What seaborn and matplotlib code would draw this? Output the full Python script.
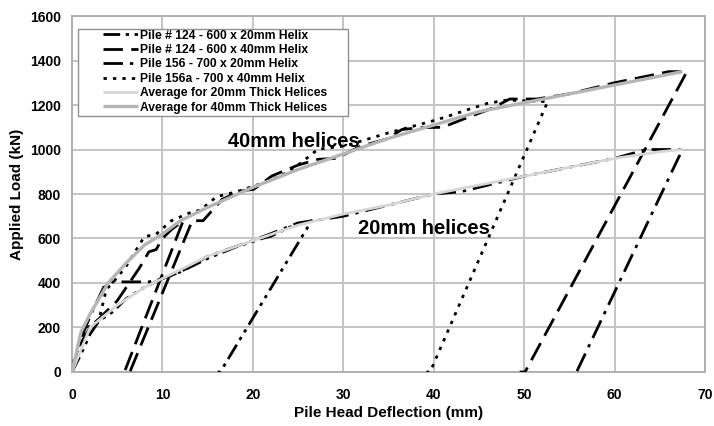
import matplotlib
matplotlib.use("Agg")
import matplotlib.pyplot as plt
from matplotlib.patches import Rectangle
import seaborn as sns
import pandas as pd

# ---------------- data ----------------
p124_20_x = [0, 1, 2, 3, 4.5, 6, 8, 10, 12, 15, 18, 21, 22, 24, 26.5, 16.4, 16.1]
p124_20_y = [0, 80, 170, 230, 270, 330, 380, 420, 450, 510, 560, 600, 610, 650, 680, 0, 0]

p124_40_x = [0, 1, 2, 3, 5, 7.5, 8.5, 9.3, 10, 11, 12.3, 5.8, 6.4, 13.3, 14.5, 16.6, 18.6, 20.1,
             22.1, 25, 27.2, 29.2, 32, 34.7, 36.5, 38.5, 41, 43, 46.5, 48.4, 51.4, 55, 60,
             66, 68, 50.1, 49.5]
p124_40_y = [0, 130, 200, 240, 320, 470, 540, 550, 600, 640, 680, 0, 0, 680, 680, 776, 813, 821,
             881, 930, 956, 960, 1016, 1046, 1090, 1098, 1100, 1132, 1186, 1227, 1227, 1250, 1300,
             1350, 1350, 0, 0]

p156_20_x = [0, 1, 2, 3.5, 4.5, 8.5, 10, 12, 15, 20, 25, 30, 35, 40, 43, 47, 50, 55, 60, 63.5,
             67.5, 55.8]
p156_20_y = [0, 150, 250, 380, 405, 405, 420, 450, 520, 590, 670, 700, 750, 800, 810, 850, 880,
             920, 960, 1000, 1000, 0]

p156a_40_x = [0, 0.25, 1.5, 3, 3.8, 4.5, 6, 8, 9.3, 11, 13, 14.2, 16, 18.2, 21.1, 23.3, 25, 27.2,
              30.2, 35, 39.6, 41.4, 43.6, 45.9, 48.1, 52.6, 39.6, 39.2]
p156a_40_y = [0, 57, 192, 237, 372, 400, 476, 608, 619, 680, 715, 728, 788, 810, 849, 885, 930,
              1001, 1016, 1075, 1125, 1147, 1177, 1207, 1222, 1215, 0, 0]

avg20_x = [0, 2, 5, 8, 10, 12, 15, 20, 25, 30, 35, 40, 45, 50, 55, 60, 65, 67.5]
avg20_y = [0, 200, 300, 380, 420, 460, 520, 590, 660, 710, 750, 800, 840, 880, 920, 960, 990, 1000]

avg40_x = [0, 1, 2, 4, 6, 8, 10, 12, 15, 20, 25, 30, 35, 40, 45, 50, 55, 60, 65, 67.5]
avg40_y = [0, 180, 260, 400, 490, 570, 620, 680, 740, 830, 910, 980, 1050, 1110, 1170, 1210,
           1250, 1290, 1330, 1350]

labels = ["Pile # 124 - 600 x 20mm Helix",
          "Pile # 124 - 600 x 40mm Helix",
          "Pile 156 - 700 x 20mm Helix",
          "Pile 156a - 700 x 40mm Helix",
          "Average for 20mm Thick Helices",
          "Average for 40mm Thick Helices"]

x_ticks = [0, 10, 20, 30, 40, 50, 60, 70]
y_ticks = [0, 200, 400, 600, 800, 1000, 1200, 1400, 1600]

# ---------------- style ----------------
sns.set_theme(style="white")
plt.rcParams['font.family'] = ['Liberation Sans', 'DejaVu Sans']
plt.rcParams['text.color'] = 'black'
plt.rcParams['axes.labelcolor'] = 'black'
plt.rcParams['xtick.color'] = 'black'
plt.rcParams['ytick.color'] = 'black'

fig = plt.figure(figsize=(7.14, 4.26), dpi=100)
ax = fig.add_axes([0.1008, 0.1268, 0.8866, 0.8356])

series = [
    (p124_20_x, p124_20_y, "black", 2.0, (6, 2, 1.2, 2, 1.2, 2)),
    (p124_40_x, p124_40_y, "black", 2.0, (7, 3)),
    (p156_20_x, p156_20_y, "black", 2.0, (7, 2.5, 1.2, 2.5)),
    (p156a_40_x, p156a_40_y, "black", 2.0, (1.2, 2.2)),
    (avg20_x, avg20_y, "#d6d6d6", 2.0, None),
    (avg40_x, avg40_y, "#b5b5b5", 2.4, None),
]

handles = []
for i, (xs, ys, col, lw, dash) in enumerate(series):
    df = pd.DataFrame({"x": xs, "y": ys})
    n_before = len(ax.lines)
    sns.lineplot(data=df, x="x", y="y", sort=False, estimator=None, color=col,
                 linewidth=lw, ax=ax, zorder=3 + i)
    line = ax.lines[n_before]
    if dash is not None:
        line.set_dashes(dash)
    line.set_solid_capstyle("butt")
    line.set_dash_capstyle("butt")
    line.set_label(labels[i])
    handles.append(line)

ax.set_xlim(0, 70)
ax.set_ylim(0, 1600)
ax.set_xticks(x_ticks)
ax.set_yticks(y_ticks)
ax.set_xticklabels([str(t) for t in x_ticks], fontsize=10, fontweight="bold")
ax.set_yticklabels([str(t) for t in y_ticks], fontsize=10, fontweight="bold")
ax.grid(True, color="#c4c4c4", linewidth=1.4)
ax.set_axisbelow(True)
for s in ax.spines.values():
    s.set_color("#b0b0b0")
    s.set_linewidth(1.4)
ax.tick_params(axis="both", length=4.5, width=1.4, color="#b0b0b0", labelcolor="black")
ax.tick_params(axis="x", pad=7)
ax.tick_params(axis="y", pad=3.5)

ax.set_xlabel("Pile Head Deflection (mm)", fontsize=11, fontweight="bold", labelpad=3,
              color="black")
ax.set_ylabel("Applied Load (kN)", fontsize=11, fontweight="bold", labelpad=4,
              color="black")

ax.text(24.5, 1034, "40mm helices", fontsize=14.5, fontweight="bold", color="black",
        ha="center", va="center", zorder=10)
ax.text(38.9, 647, "20mm helices", fontsize=14.5, fontweight="bold", color="black",
        ha="center", va="center", zorder=10)

# legend frame (wide horizontal padding as in the reference)
frame = Rectangle((0.0095, 0.719), 0.4265, 0.2445, transform=ax.transAxes,
                  facecolor="white", edgecolor="#909090", linewidth=1.0, zorder=19)
ax.add_patch(frame)
leg = ax.legend(handles=handles, loc="upper left", bbox_to_anchor=(0.049, 0.962),
                prop={"size": 8.7, "weight": "bold"}, handlelength=2.9, handletextpad=0.15,
                labelspacing=0.2, borderpad=0, frameon=False, borderaxespad=0)
for t in leg.get_texts():
    t.set_color("black")
leg.set_zorder(20)

fig.savefig("out.png", dpi=100)
